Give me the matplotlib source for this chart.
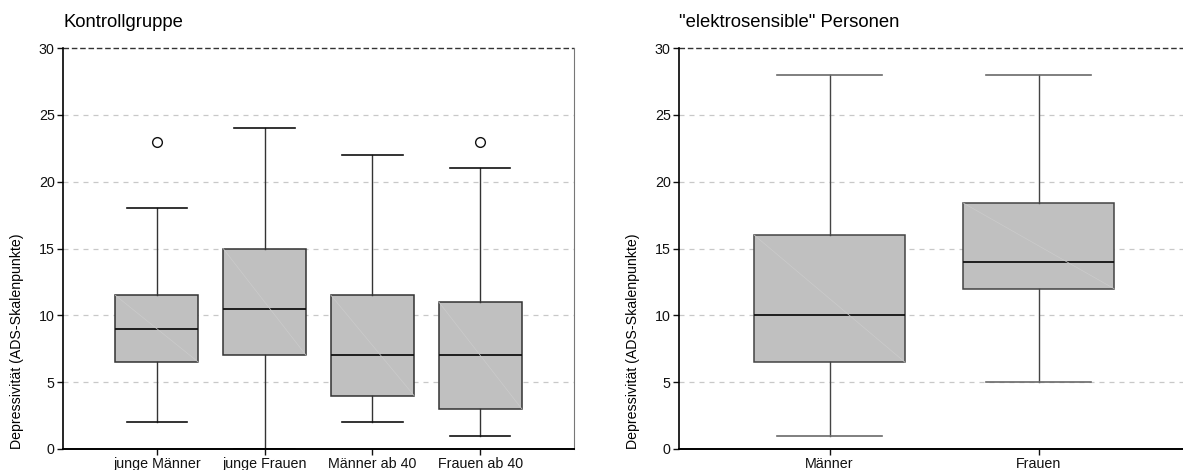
import matplotlib.pyplot as plt

plt.rcParams['font.family'] = ['Liberation Sans', 'DejaVu Sans']

# Kontrollgruppe
kg_labels = ['junge Männer', 'junge Frauen', 'Männer ab 40', 'Frauen ab 40']
kg_low = [2, 0, 2, 1]
kg_q1 = [6.5, 7, 4, 3]
kg_med = [9, 10.5, 7, 7]
kg_q3 = [11.5, 15, 11.5, 11]
kg_high = [18, 24, 22, 21]
kg_fliers = [[23], [], [], [23]]

# "elektrosensible" Personen
es_labels = ['Männer', 'Frauen']
es_low = [1, 5]
es_q1 = [6.5, 12]
es_med = [10, 14]
es_q3 = [16, 18.4]
es_high = [28, 28]
es_fliers = [[], []]

ylabel = 'Depressivität (ADS-Skalenpunkte)'


def make_stats(labels, low, q1, med, q3, high, fliers):
    return [dict(label=l, whislo=a, q1=b, med=c, q3=d, whishi=e, fliers=f)
            for l, a, b, c, d, e, f in zip(labels, low, q1, med, q3, high, fliers)]


def draw_panel(ax, title, stats, width, capwidth, xlim, edge, capcol):
    pos = list(range(1, len(stats) + 1))
    ax.bxp(stats, positions=pos, widths=width, capwidths=capwidth,
           patch_artist=True, showfliers=True,
           boxprops=dict(facecolor='#c0c0c0', edgecolor=edge, linewidth=1.1),
           medianprops=dict(color='#111111', linewidth=1.3),
           whiskerprops=dict(color=edge, linewidth=1.0),
           capprops=dict(color=capcol, linewidth=1.2),
           flierprops=dict(marker='o', markerfacecolor='white',
                           markeredgecolor='#111111', markersize=7,
                           markeredgewidth=1.0))
    # faint diagonal across each box fill
    for p, s in zip(pos, stats):
        ax.plot([p - width / 2, p + width / 2], [s['q3'], s['q1']],
                color='#cbcbcb', linewidth=0.5, zorder=3)
    for y in range(5, 30, 5):
        ax.axhline(y, color='#c8c8c8', linestyle=(0, (4, 4)), linewidth=0.9, zorder=0)
    ax.axhline(30, color='#333333', linestyle=(0, (4, 2)), linewidth=1.0,
               zorder=0, clip_on=False)
    ax.set_ylim(0, 30)
    ax.set_xlim(*xlim)
    ax.set_yticks(range(0, 31, 5))
    ax.set_xticks(pos)
    ax.set_xticklabels([s['label'] for s in stats])
    ax.tick_params(axis='both', labelsize=10.3, length=4, width=1, colors='#111111',
                   pad=2)
    ax.spines['top'].set_visible(False)
    ax.spines['left'].set_linewidth(1.2)
    ax.spines['bottom'].set_linewidth(1.4)
    ax.set_ylabel(ylabel, fontsize=10.2, loc='bottom', labelpad=11)
    ax.set_title(title, loc='left', fontsize=13.3, pad=15)


fig = plt.figure(figsize=(11.83, 4.70), dpi=100)
ax1 = fig.add_axes([0.0533, 0.0447, 0.432, 0.853])
ax2 = fig.add_axes([0.574, 0.0447, 0.426, 0.853])

draw_panel(ax1, 'Kontrollgruppe',
           make_stats(kg_labels, kg_low, kg_q1, kg_med, kg_q3, kg_high, kg_fliers),
           0.77, 0.56, (0.13, 4.87), '#333333', '#111111')
ax1.spines['right'].set_color('#777777')

draw_panel(ax2, '"elektrosensible" Personen',
           make_stats(es_labels, es_low, es_q1, es_med, es_q3, es_high, es_fliers),
           0.72, 0.5, (0.28, 2.69), '#444444', '#6a6a6a')
ax2.spines['right'].set_visible(False)

fig.savefig('out.png', dpi=100)
